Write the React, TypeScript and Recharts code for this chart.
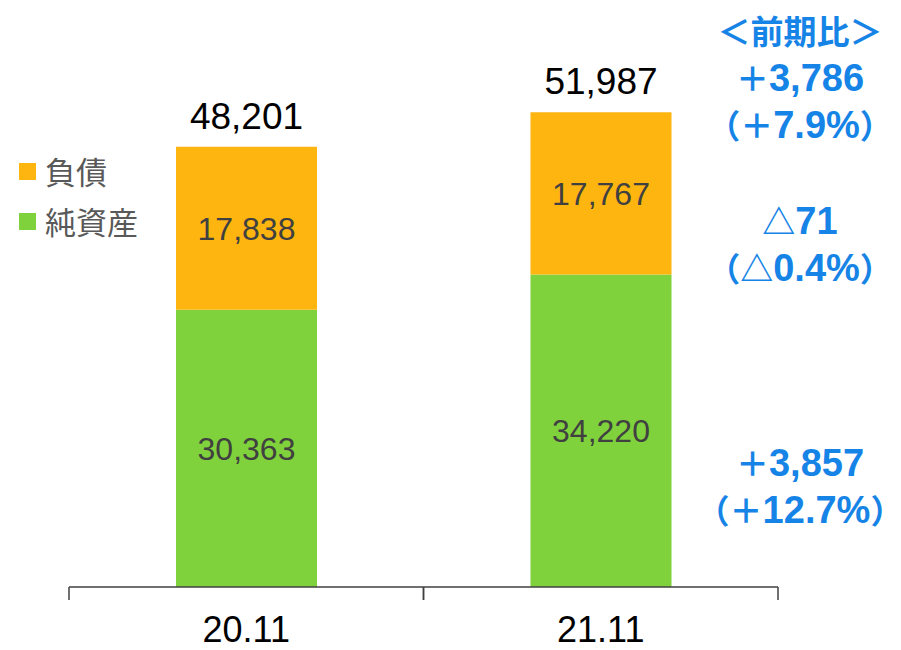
import { Bar, BarChart, LabelList, XAxis, YAxis } from "recharts";

// balance sheet totals at fiscal year end (百万円)
const categories = ["20.11", "21.11"];
const netAssets = [30363, 34220];
const liabilities = [17838, 17767];
const totals = [48201, 51987];

const legendItems = [
  { name: "負債", color: "#FFB50F" },
  { name: "純資産", color: "#80D23C" },
];

// year-over-year notes on the right: total, liabilities, net assets
const totalNote = ["＜前期比＞", "＋3,786", "（＋7.9%）"];
const liabilitiesNote = ["△71", "（△0.4%）"];
const netAssetsNote = ["＋3,857", "（＋12.7%）"];

const W = 901;
const H = 650;
const M = { top: 39, right: 123, left: 69, bottom: 0 };
const AXIS_H = 63;
const AXIS_Y = H - M.bottom - AXIS_H;
const BAND = (W - M.left - M.right) / categories.length;
const BLUE = "#1684E6";
const NUM_FONT = '"Liberation Sans", Arial, sans-serif';
const CJK_FONT = '"Noto Sans CJK JP", sans-serif';

const fmt = (v: any) => Number(v).toLocaleString("en-US");

const data = categories.map((c, i) => ({
  category: c,
  netAssets: netAssets[i],
  liabilities: liabilities[i],
  total: totals[i],
}));

// category label plus boundary ticks on both sides of the band
function CategoryTick(props: any) {
  const { x, payload } = props;
  const half = BAND / 2;
  return (
    <g>
      <line x1={x - half} x2={x - half} y1={AXIS_Y} y2={AXIS_Y + 13} stroke="#404040" strokeWidth={1.5} />
      <line x1={x + half} x2={x + half} y1={AXIS_Y} y2={AXIS_Y + 13} stroke="#404040" strokeWidth={1.5} />
      <text x={x} y={AXIS_Y + 55} textAnchor="middle" fontSize={36} fill="#000" fontFamily={NUM_FONT}>
        {payload.value}
      </text>
    </g>
  );
}

// fullwidth symbols and kanji use the CJK face at a smaller size, digits stay in the latin face.
// parens get half-width advance ("halt") so the line box hugs the ink
function NoteLine({ text }: { text: string }) {
  return (
    <div>
      {Array.from(text).map((ch, i) => {
        if (ch.charCodeAt(0) <= 0x2000) return <span key={i}>{ch}</span>;
        const paren = ch === "（" || ch === "）";
        return (
          <span
            key={i}
            style={{ fontFamily: CJK_FONT, fontSize: 33, fontFeatureSettings: paren ? '"halt"' : undefined }}
          >
            {ch}
          </span>
        );
      })}
    </div>
  );
}

function Note({ lines, top }: { lines: string[]; top: number }) {
  return (
    <div
      style={{
        position: "absolute",
        left: 705,
        width: 190,
        top,
        textAlign: "center",
        color: BLUE,
        fontWeight: 700,
        fontSize: 38,
        lineHeight: "46px",
        fontFamily: NUM_FONT,
        whiteSpace: "nowrap",
      }}
    >
      {lines.map((l) => (
        <NoteLine key={l} text={l} />
      ))}
    </div>
  );
}

export default function App() {
  return (
    <div style={{ position: "absolute", left: 0, top: 0, width: W, height: H, background: "#fff" }}>
      <BarChart width={W} height={H} data={data} margin={M} barSize={141}>
        <YAxis hide domain={[0, 60000]} />
        <XAxis
          dataKey="category"
          height={AXIS_H}
          axisLine={{ stroke: "#404040", strokeWidth: 1.5 }}
          tickLine={false}
          tick={<CategoryTick />}
          interval={0}
        />
        <Bar dataKey="netAssets" stackId="a" fill="#80D23C" isAnimationActive={false}>
          <LabelList dataKey="netAssets" position="center" fontSize={32} fill="#404040" fontFamily={NUM_FONT} formatter={fmt} />
        </Bar>
        <Bar dataKey="liabilities" stackId="a" fill="#FFB50F" isAnimationActive={false}>
          <LabelList dataKey="liabilities" position="center" fontSize={32} fill="#404040" fontFamily={NUM_FONT} formatter={fmt} />
          <LabelList dataKey="total" position="top" offset={18} fontSize={37} fill="#000" fontFamily={NUM_FONT} formatter={fmt} />
        </Bar>
      </BarChart>

      {legendItems.map((item, i) => (
        <div
          key={item.name}
          style={{
            position: "absolute",
            left: 19,
            top: 150 + i * 50,
            display: "flex",
            alignItems: "center",
            fontFamily: CJK_FONT,
            fontSize: 31,
            color: "#595959",
            lineHeight: "42px",
          }}
        >
          <span style={{ width: 17, height: 17, background: item.color, marginRight: 9 }} />
          {item.name}
        </div>
      ))}

      <Note lines={totalNote} top={7} />
      <Note lines={liabilitiesNote} top={197} />
      <Note lines={netAssetsNote} top={439} />
    </div>
  );
}
